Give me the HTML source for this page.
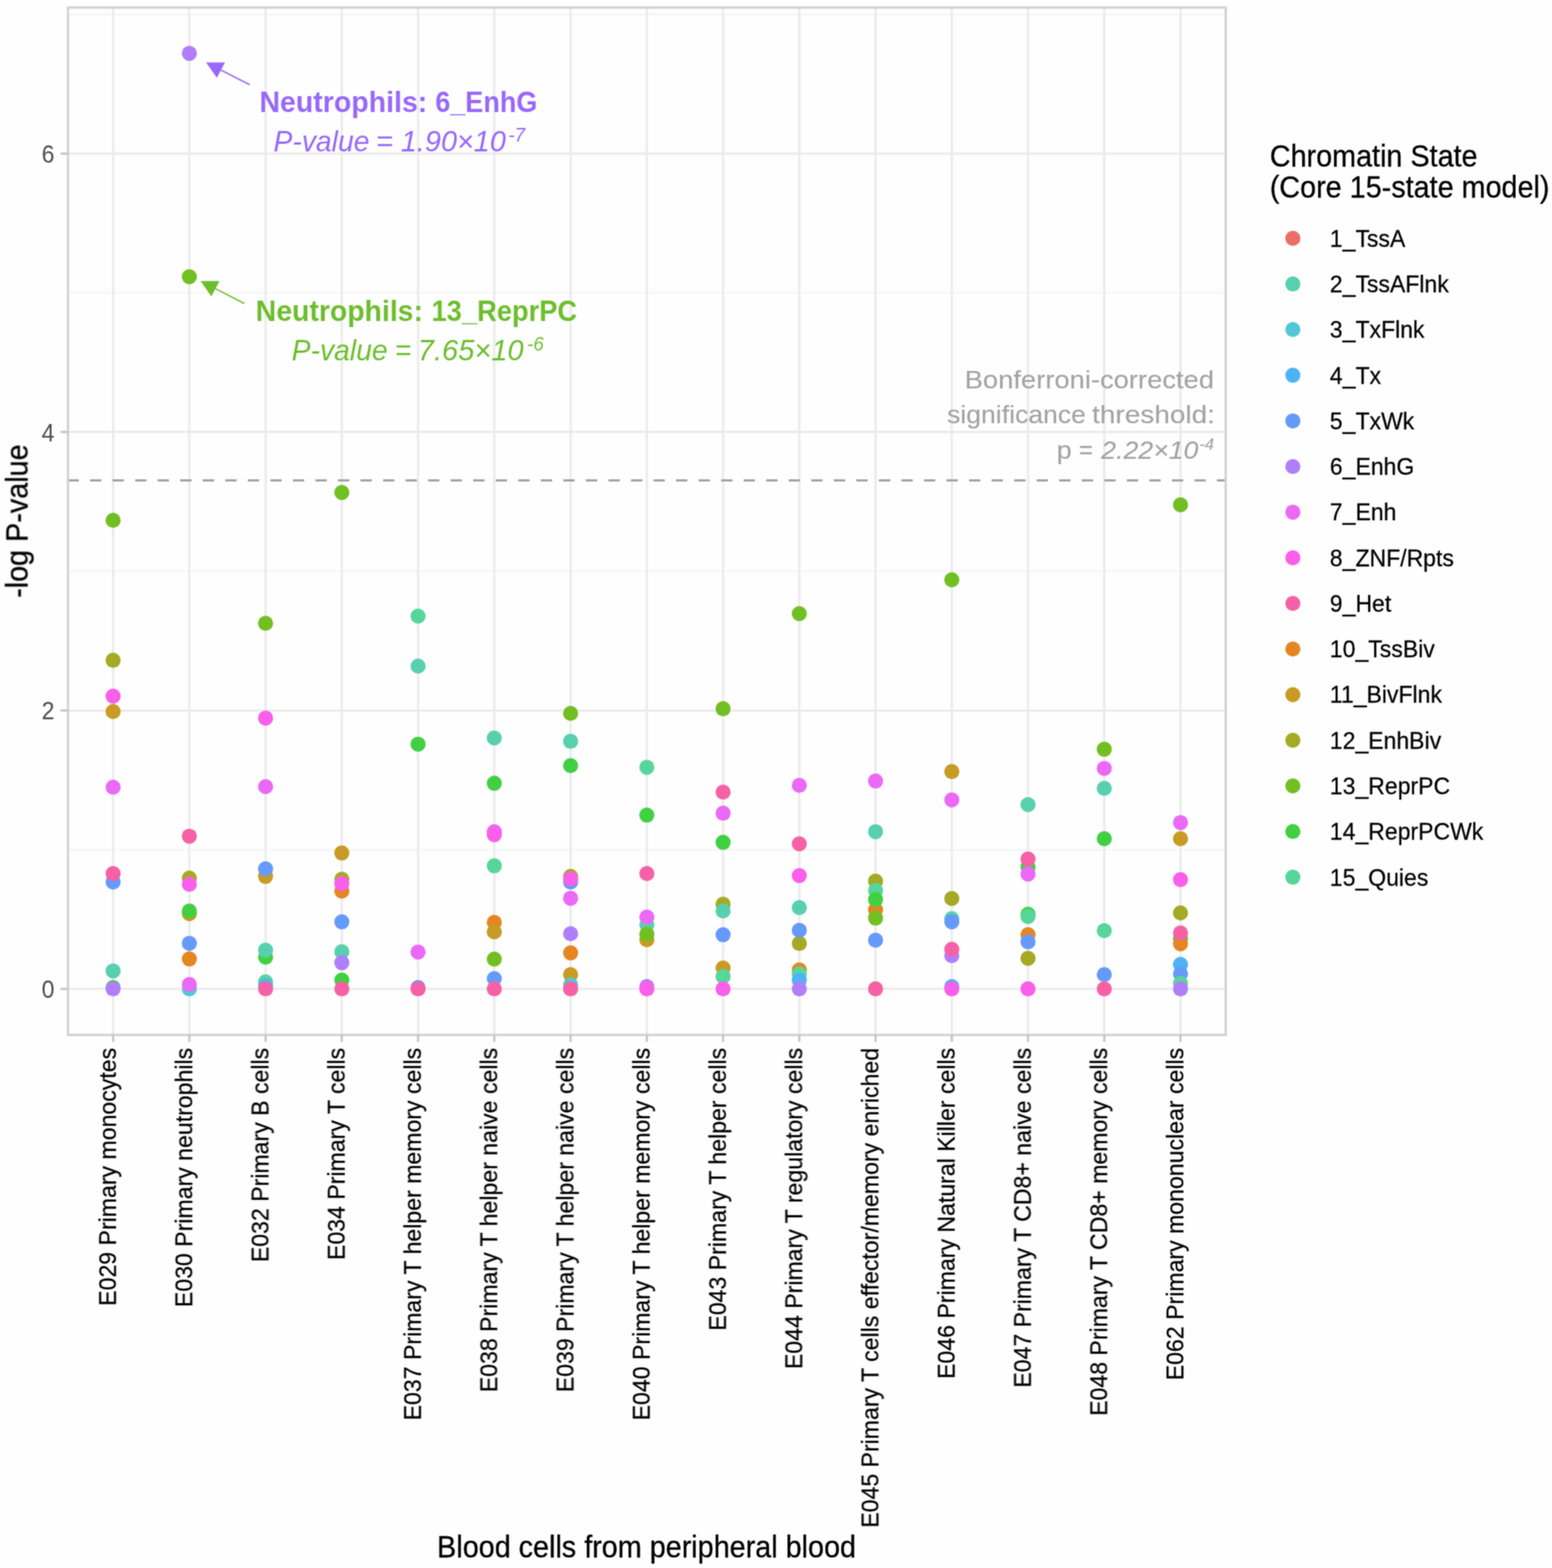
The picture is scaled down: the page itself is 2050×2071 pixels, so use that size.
<!DOCTYPE html>
<html lang="en"><head><meta charset="utf-8"><title>Chromatin state enrichment – blood cells from peripheral blood</title>
<style>
html,body{margin:0;padding:0;background:#fefefe;}
body{width:2050px;height:2071px;}
svg{display:block;}
text{font-family:"Liberation Sans",Arial,Helvetica,sans-serif;}
.ax{font-size:30.5px;fill:#4d4d4d;}
.xl{font-size:30.5px;fill:#000;stroke:#000;stroke-width:0.3px;}
.ti{font-size:38.0px;fill:#000;stroke:#000;stroke-width:0.35px;}
.lg{font-size:30.4px;fill:#000;stroke:#000;stroke-width:0.3px;}
</style></head><body>
<svg width="2050" height="2071" viewBox="0 0 2050 2071" role="img" aria-label="Chromatin state enrichment scatter plot">
<defs><filter id="soft" filterUnits="userSpaceOnUse" x="0" y="0" width="2050" height="2071" color-interpolation-filters="sRGB"><feConvolveMatrix order="3" kernelMatrix="1 3 1 3 9 3 1 3 1" edgeMode="duplicate" preserveAlpha="false"/></filter></defs>
<rect x="0" y="0" width="2050" height="2071" fill="#fefefe"/>
<g filter="url(#soft)">
<g fill="none">
<line x1="89.8" x2="1619.0" y1="1122.2" y2="1122.2" stroke="#f4f4f4" stroke-width="2.0"/>
<line x1="89.8" x2="1619.0" y1="754.5" y2="754.5" stroke="#f4f4f4" stroke-width="2.0"/>
<line x1="89.8" x2="1619.0" y1="386.7" y2="386.7" stroke="#f4f4f4" stroke-width="2.0"/>
<line x1="89.8" x2="1619.0" y1="19.0" y2="19.0" stroke="#f4f4f4" stroke-width="2.0"/>
<line x1="89.8" x2="1619.0" y1="1306.1" y2="1306.1" stroke="#ebebeb" stroke-width="3.0"/>
<line x1="89.8" x2="1619.0" y1="938.4" y2="938.4" stroke="#ebebeb" stroke-width="3.0"/>
<line x1="89.8" x2="1619.0" y1="570.6" y2="570.6" stroke="#ebebeb" stroke-width="3.0"/>
<line x1="89.8" x2="1619.0" y1="202.9" y2="202.9" stroke="#ebebeb" stroke-width="3.0"/>
<line x1="149.4" x2="149.4" y1="10.0" y2="1366.9" stroke="#ebebeb" stroke-width="3.0"/>
<line x1="250.1" x2="250.1" y1="10.0" y2="1366.9" stroke="#ebebeb" stroke-width="3.0"/>
<line x1="350.8" x2="350.8" y1="10.0" y2="1366.9" stroke="#ebebeb" stroke-width="3.0"/>
<line x1="451.5" x2="451.5" y1="10.0" y2="1366.9" stroke="#ebebeb" stroke-width="3.0"/>
<line x1="552.2" x2="552.2" y1="10.0" y2="1366.9" stroke="#ebebeb" stroke-width="3.0"/>
<line x1="652.9" x2="652.9" y1="10.0" y2="1366.9" stroke="#ebebeb" stroke-width="3.0"/>
<line x1="753.7" x2="753.7" y1="10.0" y2="1366.9" stroke="#ebebeb" stroke-width="3.0"/>
<line x1="854.4" x2="854.4" y1="10.0" y2="1366.9" stroke="#ebebeb" stroke-width="3.0"/>
<line x1="955.1" x2="955.1" y1="10.0" y2="1366.9" stroke="#ebebeb" stroke-width="3.0"/>
<line x1="1055.8" x2="1055.8" y1="10.0" y2="1366.9" stroke="#ebebeb" stroke-width="3.0"/>
<line x1="1156.5" x2="1156.5" y1="10.0" y2="1366.9" stroke="#ebebeb" stroke-width="3.0"/>
<line x1="1257.2" x2="1257.2" y1="10.0" y2="1366.9" stroke="#ebebeb" stroke-width="3.0"/>
<line x1="1357.9" x2="1357.9" y1="10.0" y2="1366.9" stroke="#ebebeb" stroke-width="3.0"/>
<line x1="1458.6" x2="1458.6" y1="10.0" y2="1366.9" stroke="#ebebeb" stroke-width="3.0"/>
<line x1="1559.3" x2="1559.3" y1="10.0" y2="1366.9" stroke="#ebebeb" stroke-width="3.0"/>
</g>
<line x1="89.2" x2="1619.0" y1="634.5" y2="634.5" stroke="#a3a3a3" stroke-width="3.1" stroke-dasharray="14.9 14.87" fill="none"/>
<g stroke="none">
<circle cx="149.4" cy="687.3" r="10.0" fill="#72BF22"/>
<circle cx="149.4" cy="872.1" r="10.0" fill="#A4AA24"/>
<circle cx="149.4" cy="919.5" r="10.0" fill="#F95FEA"/>
<circle cx="149.4" cy="939.8" r="10.0" fill="#C89B24"/>
<circle cx="149.4" cy="1039.8" r="10.0" fill="#EB69F7"/>
<circle cx="149.4" cy="1164.9" r="10.0" fill="#669AFA"/>
<circle cx="149.4" cy="1153.8" r="10.0" fill="#F661A6"/>
<circle cx="149.4" cy="1282.4" r="10.0" fill="#58D0AF"/>
<circle cx="149.4" cy="1304.2" r="10.0" fill="#40D042"/>
<circle cx="149.4" cy="1306.1" r="10.0" fill="#B17EFA"/>
<circle cx="250.1" cy="70.4" r="10.0" fill="#B17EFA"/>
<circle cx="250.1" cy="365.5" r="10.0" fill="#72BF22"/>
<circle cx="250.1" cy="1104.4" r="10.0" fill="#F661A6"/>
<circle cx="250.1" cy="1159.7" r="10.0" fill="#A4AA24"/>
<circle cx="250.1" cy="1168.0" r="10.0" fill="#F95FEA"/>
<circle cx="250.1" cy="1206.7" r="10.0" fill="#C89B24"/>
<circle cx="250.1" cy="1203.2" r="10.0" fill="#40D042"/>
<circle cx="250.1" cy="1245.9" r="10.0" fill="#669AFA"/>
<circle cx="250.1" cy="1266.6" r="10.0" fill="#E58622"/>
<circle cx="250.1" cy="1306.1" r="10.0" fill="#52C8D6"/>
<circle cx="250.1" cy="1300.3" r="10.0" fill="#EB69F7"/>
<circle cx="350.8" cy="823.3" r="10.0" fill="#72BF22"/>
<circle cx="350.8" cy="948.4" r="10.0" fill="#F95FEA"/>
<circle cx="350.8" cy="1039.0" r="10.0" fill="#EB69F7"/>
<circle cx="350.8" cy="1157.6" r="10.0" fill="#C89B24"/>
<circle cx="350.8" cy="1147.5" r="10.0" fill="#669AFA"/>
<circle cx="350.8" cy="1264.3" r="10.0" fill="#40D042"/>
<circle cx="350.8" cy="1254.9" r="10.0" fill="#58D0AF"/>
<circle cx="350.8" cy="1296.7" r="10.0" fill="#57D69C"/>
<circle cx="350.8" cy="1302.0" r="10.0" fill="#4EB3F4"/>
<circle cx="350.8" cy="1306.1" r="10.0" fill="#F661A6"/>
<circle cx="451.5" cy="650.5" r="10.0" fill="#72BF22"/>
<circle cx="451.5" cy="1126.6" r="10.0" fill="#C89B24"/>
<circle cx="451.5" cy="1161.3" r="10.0" fill="#A4AA24"/>
<circle cx="451.5" cy="1177.0" r="10.0" fill="#E58622"/>
<circle cx="451.5" cy="1167.0" r="10.0" fill="#F95FEA"/>
<circle cx="451.5" cy="1217.6" r="10.0" fill="#669AFA"/>
<circle cx="451.5" cy="1257.0" r="10.0" fill="#58D0AF"/>
<circle cx="451.5" cy="1271.6" r="10.0" fill="#B17EFA"/>
<circle cx="451.5" cy="1294.6" r="10.0" fill="#40D042"/>
<circle cx="451.5" cy="1306.1" r="10.0" fill="#F661A6"/>
<circle cx="552.2" cy="813.8" r="10.0" fill="#57D69C"/>
<circle cx="552.2" cy="879.7" r="10.0" fill="#58D0AF"/>
<circle cx="552.2" cy="982.9" r="10.0" fill="#40D042"/>
<circle cx="552.2" cy="1257.4" r="10.0" fill="#EB69F7"/>
<circle cx="552.2" cy="1304.3" r="10.0" fill="#669AFA"/>
<circle cx="552.2" cy="1306.1" r="10.0" fill="#F661A6"/>
<circle cx="652.9" cy="974.7" r="10.0" fill="#58D0AF"/>
<circle cx="652.9" cy="1034.6" r="10.0" fill="#40D042"/>
<circle cx="652.9" cy="1098.5" r="10.0" fill="#EB69F7"/>
<circle cx="652.9" cy="1102.5" r="10.0" fill="#F95FEA"/>
<circle cx="652.9" cy="1143.6" r="10.0" fill="#57D69C"/>
<circle cx="652.9" cy="1218.2" r="10.0" fill="#E58622"/>
<circle cx="652.9" cy="1230.8" r="10.0" fill="#C89B24"/>
<circle cx="652.9" cy="1266.8" r="10.0" fill="#72BF22"/>
<circle cx="652.9" cy="1292.5" r="10.0" fill="#669AFA"/>
<circle cx="652.9" cy="1306.1" r="10.0" fill="#F661A6"/>
<circle cx="753.7" cy="942.2" r="10.0" fill="#72BF22"/>
<circle cx="753.7" cy="979.1" r="10.0" fill="#58D0AF"/>
<circle cx="753.7" cy="1011.2" r="10.0" fill="#40D042"/>
<circle cx="753.7" cy="1157.6" r="10.0" fill="#A4AA24"/>
<circle cx="753.7" cy="1164.9" r="10.0" fill="#669AFA"/>
<circle cx="753.7" cy="1160.7" r="10.0" fill="#F95FEA"/>
<circle cx="753.7" cy="1186.4" r="10.0" fill="#EB69F7"/>
<circle cx="753.7" cy="1233.3" r="10.0" fill="#B17EFA"/>
<circle cx="753.7" cy="1258.6" r="10.0" fill="#E58622"/>
<circle cx="753.7" cy="1287.3" r="10.0" fill="#C89B24"/>
<circle cx="753.7" cy="1300.9" r="10.0" fill="#52C8D6"/>
<circle cx="753.7" cy="1306.1" r="10.0" fill="#F661A6"/>
<circle cx="854.4" cy="1013.4" r="10.0" fill="#57D69C"/>
<circle cx="854.4" cy="1076.6" r="10.0" fill="#40D042"/>
<circle cx="854.4" cy="1153.8" r="10.0" fill="#F661A6"/>
<circle cx="854.4" cy="1221.4" r="10.0" fill="#58D0AF"/>
<circle cx="854.4" cy="1211.3" r="10.0" fill="#EB69F7"/>
<circle cx="854.4" cy="1241.3" r="10.0" fill="#C89B24"/>
<circle cx="854.4" cy="1233.9" r="10.0" fill="#72BF22"/>
<circle cx="854.4" cy="1303.0" r="10.0" fill="#B17EFA"/>
<circle cx="854.4" cy="1306.1" r="10.0" fill="#F95FEA"/>
<circle cx="955.1" cy="936.1" r="10.0" fill="#72BF22"/>
<circle cx="955.1" cy="1046.3" r="10.0" fill="#F661A6"/>
<circle cx="955.1" cy="1074.1" r="10.0" fill="#EB69F7"/>
<circle cx="955.1" cy="1112.6" r="10.0" fill="#40D042"/>
<circle cx="955.1" cy="1194.2" r="10.0" fill="#A4AA24"/>
<circle cx="955.1" cy="1203.2" r="10.0" fill="#58D0AF"/>
<circle cx="955.1" cy="1234.6" r="10.0" fill="#669AFA"/>
<circle cx="955.1" cy="1278.5" r="10.0" fill="#C89B24"/>
<circle cx="955.1" cy="1289.8" r="10.0" fill="#57D69C"/>
<circle cx="955.1" cy="1306.1" r="10.0" fill="#F95FEA"/>
<circle cx="1055.8" cy="810.5" r="10.0" fill="#72BF22"/>
<circle cx="1055.8" cy="1037.3" r="10.0" fill="#EB69F7"/>
<circle cx="1055.8" cy="1114.5" r="10.0" fill="#F661A6"/>
<circle cx="1055.8" cy="1156.5" r="10.0" fill="#F95FEA"/>
<circle cx="1055.8" cy="1198.8" r="10.0" fill="#58D0AF"/>
<circle cx="1055.8" cy="1246.1" r="10.0" fill="#A4AA24"/>
<circle cx="1055.8" cy="1228.7" r="10.0" fill="#669AFA"/>
<circle cx="1055.8" cy="1281.0" r="10.0" fill="#E58622"/>
<circle cx="1055.8" cy="1286.2" r="10.0" fill="#57D69C"/>
<circle cx="1055.8" cy="1294.6" r="10.0" fill="#4EB3F4"/>
<circle cx="1055.8" cy="1306.1" r="10.0" fill="#B17EFA"/>
<circle cx="1156.5" cy="1031.6" r="10.0" fill="#EB69F7"/>
<circle cx="1156.5" cy="1098.4" r="10.0" fill="#58D0AF"/>
<circle cx="1156.5" cy="1163.8" r="10.0" fill="#A4AA24"/>
<circle cx="1156.5" cy="1176.0" r="10.0" fill="#57D69C"/>
<circle cx="1156.5" cy="1201.5" r="10.0" fill="#E58622"/>
<circle cx="1156.5" cy="1187.9" r="10.0" fill="#40D042"/>
<circle cx="1156.5" cy="1212.6" r="10.0" fill="#72BF22"/>
<circle cx="1156.5" cy="1241.7" r="10.0" fill="#669AFA"/>
<circle cx="1156.5" cy="1306.1" r="10.0" fill="#F661A6"/>
<circle cx="1257.2" cy="765.8" r="10.0" fill="#72BF22"/>
<circle cx="1257.2" cy="1019.1" r="10.0" fill="#C89B24"/>
<circle cx="1257.2" cy="1056.5" r="10.0" fill="#EB69F7"/>
<circle cx="1257.2" cy="1186.7" r="10.0" fill="#A4AA24"/>
<circle cx="1257.2" cy="1213.3" r="10.0" fill="#58D0AF"/>
<circle cx="1257.2" cy="1217.4" r="10.0" fill="#669AFA"/>
<circle cx="1257.2" cy="1262.2" r="10.0" fill="#B17EFA"/>
<circle cx="1257.2" cy="1253.8" r="10.0" fill="#F661A6"/>
<circle cx="1257.2" cy="1303.0" r="10.0" fill="#4EB3F4"/>
<circle cx="1257.2" cy="1306.1" r="10.0" fill="#F95FEA"/>
<circle cx="1357.9" cy="1062.8" r="10.0" fill="#58D0AF"/>
<circle cx="1357.9" cy="1145.0" r="10.0" fill="#40D042"/>
<circle cx="1357.9" cy="1134.6" r="10.0" fill="#F661A6"/>
<circle cx="1357.9" cy="1154.4" r="10.0" fill="#EB69F7"/>
<circle cx="1357.9" cy="1207.6" r="10.0" fill="#40D042"/>
<circle cx="1357.9" cy="1210.5" r="10.0" fill="#57D69C"/>
<circle cx="1357.9" cy="1234.6" r="10.0" fill="#E58622"/>
<circle cx="1357.9" cy="1244.0" r="10.0" fill="#669AFA"/>
<circle cx="1357.9" cy="1265.7" r="10.0" fill="#A4AA24"/>
<circle cx="1357.9" cy="1306.1" r="10.0" fill="#F95FEA"/>
<circle cx="1458.6" cy="989.6" r="10.0" fill="#72BF22"/>
<circle cx="1458.6" cy="1014.9" r="10.0" fill="#EB69F7"/>
<circle cx="1458.6" cy="1041.3" r="10.0" fill="#58D0AF"/>
<circle cx="1458.6" cy="1107.8" r="10.0" fill="#40D042"/>
<circle cx="1458.6" cy="1229.3" r="10.0" fill="#57D69C"/>
<circle cx="1458.6" cy="1287.3" r="10.0" fill="#669AFA"/>
<circle cx="1458.6" cy="1306.1" r="10.0" fill="#F661A6"/>
<circle cx="1559.3" cy="666.8" r="10.0" fill="#72BF22"/>
<circle cx="1559.3" cy="1086.4" r="10.0" fill="#EB69F7"/>
<circle cx="1559.3" cy="1107.8" r="10.0" fill="#C89B24"/>
<circle cx="1559.3" cy="1161.8" r="10.0" fill="#F95FEA"/>
<circle cx="1559.3" cy="1205.7" r="10.0" fill="#A4AA24"/>
<circle cx="1559.3" cy="1239.2" r="10.0" fill="#40D042"/>
<circle cx="1559.3" cy="1246.5" r="10.0" fill="#E58622"/>
<circle cx="1559.3" cy="1232.3" r="10.0" fill="#F661A6"/>
<circle cx="1559.3" cy="1273.7" r="10.0" fill="#4EB3F4"/>
<circle cx="1559.3" cy="1286.2" r="10.0" fill="#669AFA"/>
<circle cx="1559.3" cy="1298.8" r="10.0" fill="#57D69C"/>
<circle cx="1559.3" cy="1306.1" r="10.0" fill="#B17EFA"/>
</g>
<rect x="89.8" y="10.0" width="1529.2" height="1356.9" fill="none" stroke="#cfd0cf" stroke-width="3.0"/>
<g stroke="#c6c6c6" stroke-width="3.0" fill="none">
<line x1="80.0" x2="89.8" y1="1306.1" y2="1306.1"/>
<line x1="80.0" x2="89.8" y1="938.4" y2="938.4"/>
<line x1="80.0" x2="89.8" y1="570.6" y2="570.6"/>
<line x1="80.0" x2="89.8" y1="202.9" y2="202.9"/>
<line x1="149.4" x2="149.4" y1="1366.9" y2="1376.0"/>
<line x1="250.1" x2="250.1" y1="1366.9" y2="1376.0"/>
<line x1="350.8" x2="350.8" y1="1366.9" y2="1376.0"/>
<line x1="451.5" x2="451.5" y1="1366.9" y2="1376.0"/>
<line x1="552.2" x2="552.2" y1="1366.9" y2="1376.0"/>
<line x1="652.9" x2="652.9" y1="1366.9" y2="1376.0"/>
<line x1="753.7" x2="753.7" y1="1366.9" y2="1376.0"/>
<line x1="854.4" x2="854.4" y1="1366.9" y2="1376.0"/>
<line x1="955.1" x2="955.1" y1="1366.9" y2="1376.0"/>
<line x1="1055.8" x2="1055.8" y1="1366.9" y2="1376.0"/>
<line x1="1156.5" x2="1156.5" y1="1366.9" y2="1376.0"/>
<line x1="1257.2" x2="1257.2" y1="1366.9" y2="1376.0"/>
<line x1="1357.9" x2="1357.9" y1="1366.9" y2="1376.0"/>
<line x1="1458.6" x2="1458.6" y1="1366.9" y2="1376.0"/>
<line x1="1559.3" x2="1559.3" y1="1366.9" y2="1376.0"/>
</g>
<text class="ax" transform="translate(72.0 1318.0) scale(1 1.080)" text-anchor="end">0</text>
<text class="ax" transform="translate(72.0 950.3) scale(1 1.080)" text-anchor="end">2</text>
<text class="ax" transform="translate(72.0 582.5) scale(1 1.080)" text-anchor="end">4</text>
<text class="ax" transform="translate(72.0 214.8) scale(1 1.080)" text-anchor="end">6</text>
<text class="xl" transform="translate(153.5 1384.0) rotate(-90) scale(1 1.050)" text-anchor="end">E029 Primary monocytes</text>
<text class="xl" transform="translate(254.2 1384.0) rotate(-90) scale(1 1.050)" text-anchor="end">E030 Primary neutrophils</text>
<text class="xl" transform="translate(354.9 1384.0) rotate(-90) scale(1 1.050)" text-anchor="end">E032 Primary B cells</text>
<text class="xl" transform="translate(455.6 1384.0) rotate(-90) scale(1 1.050)" text-anchor="end">E034 Primary T cells</text>
<text class="xl" transform="translate(556.3 1384.0) rotate(-90) scale(1 1.050)" text-anchor="end">E037 Primary T helper memory cells</text>
<text class="xl" transform="translate(657.0 1384.0) rotate(-90) scale(1 1.050)" text-anchor="end">E038 Primary T helper naive cells</text>
<text class="xl" transform="translate(757.8 1384.0) rotate(-90) scale(1 1.050)" text-anchor="end">E039 Primary T helper naive cells</text>
<text class="xl" transform="translate(858.5 1384.0) rotate(-90) scale(1 1.050)" text-anchor="end">E040 Primary T helper memory cells</text>
<text class="xl" transform="translate(959.2 1384.0) rotate(-90) scale(1 1.050)" text-anchor="end">E043 Primary T helper cells</text>
<text class="xl" transform="translate(1059.9 1384.0) rotate(-90) scale(1 1.050)" text-anchor="end">E044 Primary T regulatory cells</text>
<text class="xl" transform="translate(1160.6 1384.0) rotate(-90) scale(1 1.050)" text-anchor="end">E045 Primary T cells effector/memory enriched</text>
<text class="xl" transform="translate(1261.3 1384.0) rotate(-90) scale(1 1.050)" text-anchor="end">E046 Primary Natural Killer cells</text>
<text class="xl" transform="translate(1362.0 1384.0) rotate(-90) scale(1 1.050)" text-anchor="end">E047 Primary T CD8+ naive cells</text>
<text class="xl" transform="translate(1462.7 1384.0) rotate(-90) scale(1 1.050)" text-anchor="end">E048 Primary T CD8+ memory cells</text>
<text class="xl" transform="translate(1563.4 1384.0) rotate(-90) scale(1 1.050)" text-anchor="end">E062 Primary mononuclear cells</text>
<text class="ti" transform="translate(854.0 2056.8) scale(1 1.050)" text-anchor="middle">Blood cells from peripheral blood</text>
<text class="ti" transform="translate(36.2 688.3) rotate(-90) scale(1 1.050)" text-anchor="middle">-log P-value</text>
<text class="ti" transform="translate(1677.2 220.1) scale(1 1.050)">Chromatin State</text>
<text class="ti" transform="translate(1677.2 261.2) scale(1 1.050)">(Core 15-state model)</text>
<circle cx="1707.7" cy="314.8" r="10.0" fill="#EC6D69"/>
<text class="lg" transform="translate(1756.6 325.7) scale(1 1.050)">1_TssA</text>
<circle cx="1707.7" cy="375.1" r="10.0" fill="#58D0AF"/>
<text class="lg" transform="translate(1756.6 386.0) scale(1 1.050)">2_TssAFlnk</text>
<circle cx="1707.7" cy="435.3" r="10.0" fill="#52C8D6"/>
<text class="lg" transform="translate(1756.6 446.2) scale(1 1.050)">3_TxFlnk</text>
<circle cx="1707.7" cy="495.6" r="10.0" fill="#4EB3F4"/>
<text class="lg" transform="translate(1756.6 506.5) scale(1 1.050)">4_Tx</text>
<circle cx="1707.7" cy="555.9" r="10.0" fill="#669AFA"/>
<text class="lg" transform="translate(1756.6 566.8) scale(1 1.050)">5_TxWk</text>
<circle cx="1707.7" cy="616.2" r="10.0" fill="#B17EFA"/>
<text class="lg" transform="translate(1756.6 627.1) scale(1 1.050)">6_EnhG</text>
<circle cx="1707.7" cy="676.4" r="10.0" fill="#EB69F7"/>
<text class="lg" transform="translate(1756.6 687.3) scale(1 1.050)">7_Enh</text>
<circle cx="1707.7" cy="736.7" r="10.0" fill="#F95FEA"/>
<text class="lg" transform="translate(1756.6 747.6) scale(1 1.050)">8_ZNF/Rpts</text>
<circle cx="1707.7" cy="797.0" r="10.0" fill="#F661A6"/>
<text class="lg" transform="translate(1756.6 807.9) scale(1 1.050)">9_Het</text>
<circle cx="1707.7" cy="857.2" r="10.0" fill="#E58622"/>
<text class="lg" transform="translate(1756.6 868.1) scale(1 1.050)">10_TssBiv</text>
<circle cx="1707.7" cy="917.5" r="10.0" fill="#C89B24"/>
<text class="lg" transform="translate(1756.6 928.4) scale(1 1.050)">11_BivFlnk</text>
<circle cx="1707.7" cy="977.8" r="10.0" fill="#A4AA24"/>
<text class="lg" transform="translate(1756.6 988.7) scale(1 1.050)">12_EnhBiv</text>
<circle cx="1707.7" cy="1038.0" r="10.0" fill="#72BF22"/>
<text class="lg" transform="translate(1756.6 1048.9) scale(1 1.050)">13_ReprPC</text>
<circle cx="1707.7" cy="1098.3" r="10.0" fill="#40D042"/>
<text class="lg" transform="translate(1756.6 1109.2) scale(1 1.050)">14_ReprPCWk</text>
<circle cx="1707.7" cy="1158.6" r="10.0" fill="#57D69C"/>
<text class="lg" transform="translate(1756.6 1169.5) scale(1 1.050)">15_Quies</text>
<line x1="329.8" y1="111.9" x2="291.9" y2="92.6" stroke="#9868FB" stroke-width="1.8" fill="none"/>
<polygon points="272.2,82.5 297.2,82.5 286.5,102.7" fill="#9868FB"/>
<line x1="322.8" y1="400.9" x2="284.6" y2="381.3" stroke="#6DBE2D" stroke-width="1.8" fill="none"/>
<polygon points="265.0,371.2 290.0,371.2 279.1,391.4" fill="#6DBE2D"/>
<text fill="#9868FB"><tspan x="342.65" y="148.10" font-size="39.30" textLength="221.78" lengthAdjust="spacingAndGlyphs" font-weight="bold">Neutrophils:</tspan> <tspan x="574.88" y="148.10" font-size="39.30" textLength="135.03" lengthAdjust="spacingAndGlyphs" font-weight="bold">6_EnhG</tspan></text>
<text fill="#9868FB"><tspan x="361.32" y="199.90" font-size="39.30" textLength="126.61" lengthAdjust="spacingAndGlyphs" font-style="italic">P-value</tspan> <tspan x="496.57" y="199.90" font-size="39.30" textLength="22.66" lengthAdjust="spacingAndGlyphs" font-style="italic">=</tspan> <tspan x="529.40" y="199.90" font-size="39.30" textLength="138.85" lengthAdjust="spacingAndGlyphs" font-style="italic">1.90×10</tspan><tspan x="671.53" y="187.00" font-size="25.50" textLength="22.23" lengthAdjust="spacingAndGlyphs" font-style="italic">-7</tspan></text>
<text fill="#6DBE2D"><tspan x="337.86" y="423.70" font-size="39.30" textLength="220.86" lengthAdjust="spacingAndGlyphs" font-weight="bold">Neutrophils:</tspan> <tspan x="570.05" y="423.70" font-size="39.30" textLength="192.34" lengthAdjust="spacingAndGlyphs" font-weight="bold">13_ReprPC</tspan></text>
<text fill="#6DBE2D"><tspan x="385.32" y="475.60" font-size="39.30" textLength="126.61" lengthAdjust="spacingAndGlyphs" font-style="italic">P-value</tspan> <tspan x="521.38" y="475.60" font-size="39.30" textLength="21.72" lengthAdjust="spacingAndGlyphs" font-style="italic">=</tspan> <tspan x="551.80" y="475.60" font-size="39.30" textLength="139.86" lengthAdjust="spacingAndGlyphs" font-style="italic">7.65×10</tspan><tspan x="696.24" y="463.30" font-size="25.50" textLength="22.00" lengthAdjust="spacingAndGlyphs" font-style="italic">-6</tspan></text>
<text fill="#a2a2a2" stroke="#a2a2a2" stroke-width="0.12"><tspan x="1274.28" y="512.90" font-size="32.30" textLength="329.25" lengthAdjust="spacingAndGlyphs">Bonferroni-corrected</tspan></text>
<text fill="#a2a2a2" stroke="#a2a2a2" stroke-width="0.12"><tspan x="1250.95" y="559.40" font-size="32.30" textLength="183.47" lengthAdjust="spacingAndGlyphs">significance</tspan> <tspan x="1442.50" y="559.40" font-size="32.30" textLength="162.34" lengthAdjust="spacingAndGlyphs">threshold:</tspan></text>
<text fill="#a2a2a2" stroke="#a2a2a2" stroke-width="0.12"><tspan x="1395.77" y="605.50" font-size="32.30" textLength="19.88" lengthAdjust="spacingAndGlyphs">p</tspan> <tspan x="1425.33" y="605.50" font-size="32.30" textLength="18.34" lengthAdjust="spacingAndGlyphs">=</tspan> <tspan x="1454.55" y="605.50" font-size="32.30" textLength="128.43" lengthAdjust="spacingAndGlyphs" font-style="italic">2.22×10</tspan><tspan x="1583.96" y="594.30" font-size="22.00" textLength="19.80" lengthAdjust="spacingAndGlyphs" font-style="italic">-4</tspan></text>
</g>
</svg>
</body></html>
